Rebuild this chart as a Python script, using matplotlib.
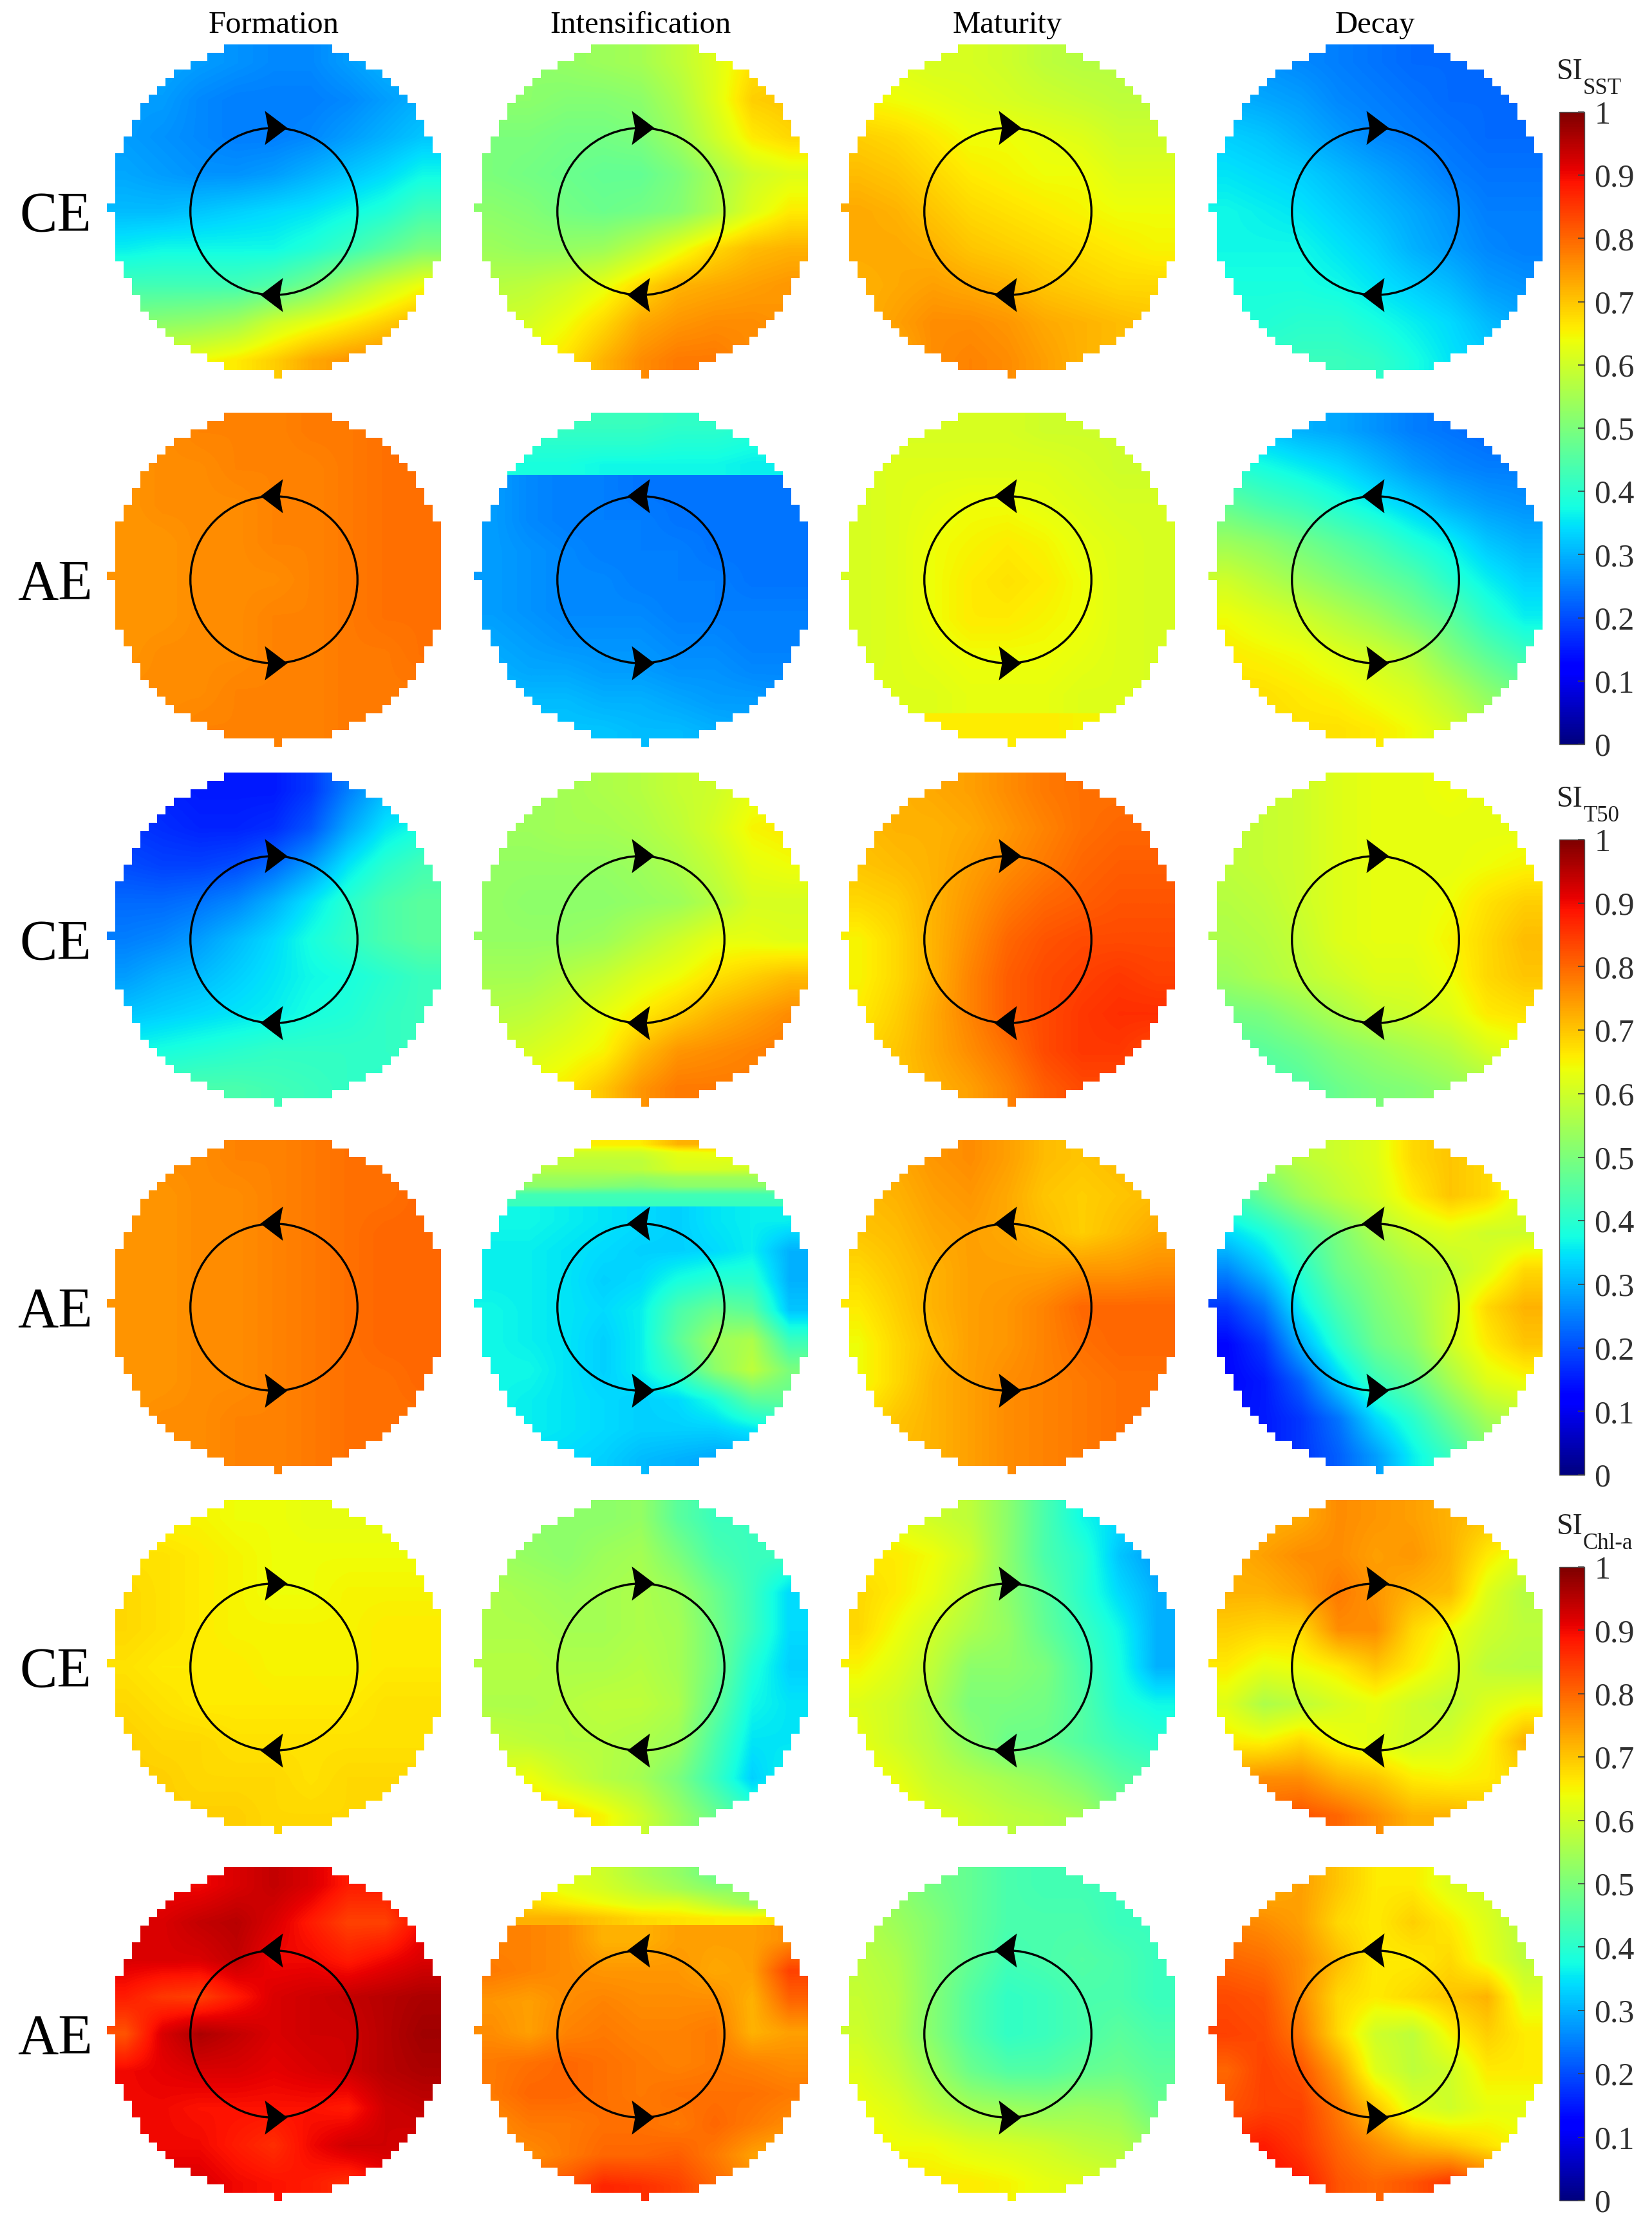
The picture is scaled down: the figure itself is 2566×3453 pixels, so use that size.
import numpy as np
import matplotlib
matplotlib.use('Agg')
import matplotlib.pyplot as plt
from matplotlib.path import Path
from matplotlib.patches import Circle, Polygon
from matplotlib.cm import ScalarMappable
from matplotlib.colors import Normalize

plt.rcParams['font.family'] = ['Liberation Serif', 'DejaVu Serif']

stages = ['Formation', 'Intensification', 'Maturity', 'Decay']
row_labels = ['CE', 'AE', 'CE', 'AE', 'CE', 'AE']
cbar_ticks = [0, .1, .2, .3, .4, .5, .6, .7, .8, .9, 1]
cbar_subs = ['SST', 'T50', 'Chl-a']

# ---------- SI_SST, cyclonic eddies
sst_ce_form = [[.29,.29,.28,.27,.26,.26,.28,.30,.30],[.28,.28,.26,.25,.25,.25,.26,.28,.30],[.28,.27,.26,.25,.25,.26,.28,.30,.32],
 [.29,.28,.27,.27,.28,.30,.32,.34,.37],[.31,.31,.32,.33,.34,.35,.37,.39,.43],[.36,.37,.37,.37,.37,.39,.42,.46,.50],
 [.43,.43,.43,.43,.45,.49,.55,.60,.64],[.51,.52,.53,.55,.60,.63,.66,.69,.72],[.60,.62,.64,.66,.69,.73,.75,.76,.76]]
sst_ce_int = [[.52,.52,.53,.54,.55,.58,.62,.67,.68],[.52,.52,.51,.51,.52,.56,.62,.69,.70],[.50,.50,.49,.49,.50,.54,.60,.66,.68],
 [.50,.49,.48,.47,.47,.50,.55,.60,.62],[.52,.51,.49,.48,.49,.51,.56,.62,.66],[.54,.53,.53,.54,.58,.63,.68,.71,.72],
 [.57,.58,.60,.63,.68,.72,.73,.74,.75],[.60,.61,.64,.68,.73,.75,.76,.76,.75],[.62,.64,.67,.72,.76,.78,.78,.76,.75]]
sst_ce_mat = [[.63,.62,.61,.61,.60,.58,.57,.57,.57],[.65,.64,.63,.62,.61,.60,.59,.58,.58],[.69,.68,.66,.64,.64,.63,.62,.60,.60],
 [.71,.70,.68,.66,.65,.64,.64,.62,.62],[.73,.72,.70,.68,.67,.66,.65,.64,.64],[.73,.73,.72,.70,.69,.68,.67,.66,.65],
 [.72,.73,.74,.73,.72,.70,.69,.68,.68],[.72,.74,.76,.76,.75,.73,.72,.71,.70],[.70,.72,.76,.77,.76,.74,.72,.71,.70]]
sst_ce_dec = [[.28,.27,.26,.25,.24,.23,.23,.23,.23],[.30,.29,.28,.26,.25,.24,.23,.23,.23],[.33,.32,.30,.28,.26,.25,.24,.23,.23],
 [.35,.34,.33,.31,.29,.27,.25,.24,.24],[.37,.36,.35,.33,.31,.29,.27,.25,.25],[.37,.37,.37,.35,.33,.30,.28,.26,.25],
 [.38,.38,.38,.37,.35,.33,.31,.28,.27],[.39,.39,.40,.40,.38,.36,.34,.31,.29],[.41,.41,.42,.42,.41,.38,.35,.33,.31]]
# ---------- SI_SST, anticyclonic eddies
sst_ae_form = [[.76,.76,.77,.77,.77,.78,.78,.79,.79],[.75,.76,.76,.77,.77,.77,.78,.79,.79],[.75,.76,.76,.76,.77,.77,.78,.79,.79],
 [.75,.75,.76,.76,.77,.77,.78,.79,.79],[.75,.75,.76,.76,.76,.77,.78,.79,.79],[.75,.75,.76,.76,.77,.77,.78,.79,.79],
 [.75,.76,.76,.76,.77,.77,.78,.78,.79],[.76,.76,.76,.77,.77,.77,.78,.78,.78],[.76,.76,.77,.77,.77,.77,.78,.78,.78]]
sst_ae_int_top = [[.42,.42,.42,.42,.42,.41,.41,.40,.40],[.40,.40,.40,.40,.40,.39,.39,.38,.38],[.38,.38,.38,.37,.37,.37,.37,.36,.36]]
sst_ae_int_body = [[.28,.26,.25,.25,.24,.24,.24,.24,.24],[.28,.26,.25,.25,.25,.24,.24,.24,.24],[.28,.27,.26,.25,.25,.25,.24,.24,.24],
 [.28,.27,.26,.26,.25,.25,.25,.24,.24],[.28,.27,.26,.26,.26,.25,.25,.25,.25],[.29,.28,.27,.27,.27,.26,.26,.25,.25],
 [.30,.29,.29,.28,.28,.27,.27,.26,.26],[.31,.31,.31,.30,.30,.29,.28,.28,.27],[.32,.32,.32,.32,.31,.31,.30,.29,.29]]
sst_ae_mat_body = [[.61,.61,.61,.61,.61,.60,.60,.60,.60],[.61,.62,.62,.62,.62,.62,.61,.60,.60],[.61,.62,.63,.64,.64,.63,.62,.61,.61],
 [.61,.62,.64,.65,.66,.65,.63,.62,.61],[.61,.62,.64,.66,.67,.66,.64,.62,.61],[.61,.62,.64,.66,.66,.65,.64,.62,.61],
 [.61,.62,.63,.64,.64,.64,.63,.62,.61],[.62,.62,.62,.63,.63,.63,.62,.62,.61]]
sst_ae_mat_bot = [[.66,.66,.66,.66,.66,.66,.65,.65,.65],[.66,.66,.66,.66,.66,.66,.65,.65,.65]]
sst_ae_dec = [[.33,.32,.30,.29,.27,.25,.24,.23,.23],[.40,.38,.36,.34,.31,.28,.26,.25,.25],[.47,.44,.42,.39,.36,.33,.30,.28,.27],
 [.54,.52,.49,.46,.43,.39,.36,.32,.30],[.60,.57,.54,.51,.48,.45,.40,.36,.33],[.64,.62,.60,.57,.54,.50,.46,.40,.36],
 [.66,.65,.64,.62,.60,.57,.51,.46,.42],[.67,.67,.66,.65,.63,.61,.57,.52,.48],[.68,.68,.67,.67,.66,.64,.61,.57,.52]]
# ---------- SI_T50, cyclonic eddies
t50_ce_form = [[.17,.16,.15,.15,.15,.18,.25,.31,.33],[.18,.17,.16,.16,.17,.21,.29,.35,.38],[.20,.19,.19,.20,.23,.28,.35,.40,.43],
 [.23,.23,.24,.26,.30,.35,.40,.44,.46],[.25,.26,.28,.31,.34,.38,.41,.44,.46],[.28,.30,.31,.33,.35,.37,.38,.40,.42],
 [.32,.33,.34,.35,.36,.38,.39,.41,.42],[.37,.38,.39,.40,.41,.41,.41,.41,.42],[.42,.43,.44,.44,.43,.42,.41,.40,.40]]
t50_ce_int = [[.54,.54,.55,.56,.57,.59,.60,.63,.63],[.54,.54,.55,.55,.56,.58,.61,.65,.66],[.53,.53,.53,.53,.54,.56,.59,.63,.64],
 [.53,.52,.52,.52,.53,.54,.57,.61,.61],[.53,.53,.53,.54,.57,.60,.63,.63,.62],[.55,.55,.57,.59,.62,.64,.67,.69,.71],
 [.57,.58,.60,.63,.66,.69,.72,.74,.76],[.60,.61,.63,.65,.71,.75,.76,.77,.78],[.62,.64,.66,.70,.75,.78,.78,.78,.76]]
t50_ce_mat = [[.70,.72,.73,.74,.76,.78,.79,.79,.79],[.71,.72,.72,.73,.75,.77,.79,.80,.80],[.70,.71,.72,.74,.76,.78,.80,.81,.81],
 [.68,.69,.72,.75,.78,.80,.81,.82,.82],[.65,.68,.72,.76,.80,.82,.83,.83,.83],[.65,.68,.72,.77,.81,.83,.84,.85,.84],
 [.66,.69,.73,.77,.81,.83,.85,.86,.86],[.68,.70,.73,.76,.79,.83,.85,.85,.83],[.69,.70,.72,.74,.77,.81,.83,.83,.81]]
t50_ce_dec = [[.58,.59,.60,.62,.63,.63,.64,.63,.61],[.58,.59,.60,.62,.63,.63,.63,.63,.63],[.58,.59,.60,.62,.63,.63,.63,.64,.65],
 [.57,.58,.60,.62,.63,.63,.64,.67,.69],[.56,.57,.59,.62,.63,.63,.65,.68,.71],[.54,.56,.58,.60,.62,.62,.64,.68,.70],
 [.49,.50,.53,.56,.59,.60,.62,.66,.67],[.45,.46,.48,.51,.53,.55,.57,.61,.63],[.42,.43,.45,.48,.50,.51,.53,.55,.57]]
# ---------- SI_T50, anticyclonic eddies
t50_ae_form = [[.75,.76,.76,.77,.77,.78,.79,.79,.79],[.75,.75,.76,.76,.77,.78,.79,.79,.80],[.75,.75,.76,.76,.77,.78,.79,.80,.80],
 [.75,.75,.76,.76,.77,.78,.79,.80,.80],[.75,.75,.76,.76,.77,.78,.79,.80,.80],[.75,.75,.76,.76,.77,.78,.79,.80,.80],
 [.75,.75,.76,.76,.77,.78,.79,.79,.80],[.75,.76,.76,.77,.77,.78,.79,.79,.79],[.76,.76,.76,.77,.77,.78,.79,.79,.79]]
t50_ae_int_top = [[.66,.66,.66,.66,.66,.72,.72,.72,.72],[.60,.60,.60,.60,.60,.63,.64,.64,.64],[.58,.58,.58,.58,.58,.62,.62,.62,.62],
 [.57,.57,.57,.57,.58,.61,.61,.60,.60],[.54,.54,.54,.54,.53,.54,.54,.54,.54],[.52,.52,.52,.51,.50,.52,.52,.52,.52],
 [.43,.43,.43,.43,.43,.43,.43,.43,.43],[.42,.42,.42,.42,.42,.42,.42,.42,.42]]
t50_ae_int_body = [[.37,.37,.36,.35,.34,.33,.35,.36,.36],[.36,.36,.35,.34,.33,.33,.34,.36,.30],[.36,.36,.35,.33,.34,.38,.40,.40,.30],
 [.37,.36,.35,.34,.36,.44,.48,.46,.32],[.37,.36,.35,.33,.36,.46,.54,.56,.42],[.37,.37,.35,.33,.36,.42,.52,.58,.50],
 [.37,.36,.35,.34,.33,.34,.38,.46,.47],[.36,.36,.35,.34,.33,.33,.33,.35,.38],[.34,.34,.34,.33,.31,.30,.29,.29,.30]]
t50_ae_mat = [[.72,.73,.75,.76,.74,.71,.70,.71,.71],[.71,.72,.74,.75,.73,.70,.69,.70,.71],[.70,.71,.73,.74,.73,.71,.69,.71,.73],
 [.68,.70,.72,.74,.74,.74,.75,.75,.76],[.66,.69,.72,.74,.75,.77,.80,.80,.80],[.64,.68,.71,.74,.75,.77,.79,.80,.80],
 [.64,.68,.72,.74,.76,.77,.78,.79,.79],[.67,.70,.72,.74,.76,.77,.78,.79,.79],[.69,.71,.72,.74,.76,.77,.78,.79,.79]]
t50_ae_dec = [[.50,.55,.58,.60,.62,.68,.70,.68,.62],[.42,.48,.54,.58,.61,.66,.70,.68,.62],[.34,.38,.44,.50,.56,.60,.62,.60,.60],
 [.26,.32,.40,.48,.52,.56,.58,.62,.68],[.18,.24,.36,.44,.50,.54,.60,.68,.72],[.13,.18,.30,.40,.48,.52,.60,.66,.70],
 [.13,.15,.22,.33,.42,.47,.55,.62,.64],[.14,.15,.18,.24,.34,.40,.48,.55,.58],[.15,.15,.18,.22,.28,.36,.42,.50,.52]]
# ---------- SI_Chl-a, cyclonic eddies
chl_ce_form = [[.65,.65,.65,.64,.64,.63,.63,.63,.63],[.67,.67,.66,.65,.64,.64,.64,.64,.64],[.68,.67,.66,.65,.64,.64,.65,.65,.65],
 [.68,.67,.66,.65,.65,.65,.65,.66,.66],[.67,.66,.66,.66,.65,.65,.65,.66,.66],[.68,.67,.66,.66,.66,.66,.66,.67,.67],
 [.69,.68,.68,.67,.67,.67,.67,.67,.67],[.69,.69,.68,.68,.68,.67,.68,.68,.68],[.70,.69,.69,.69,.68,.68,.68,.68,.68]]
chl_ce_int = [[.52,.52,.52,.52,.53,.46,.42,.42,.42],[.54,.53,.52,.54,.55,.50,.44,.42,.42],[.56,.55,.54,.55,.56,.54,.48,.42,.34],
 [.56,.56,.55,.55,.56,.55,.49,.42,.34],[.57,.57,.56,.56,.57,.55,.49,.39,.33],[.56,.56,.57,.58,.58,.56,.47,.37,.35],
 [.59,.58,.57,.57,.56,.54,.44,.35,.35],[.62,.64,.60,.57,.55,.50,.42,.33,.37],[.64,.68,.68,.65,.60,.54,.48,.42,.42]]
chl_ce_mat = [[.62,.62,.60,.58,.52,.44,.37,.34,.34],[.66,.66,.64,.60,.52,.44,.40,.32,.28],[.68,.66,.63,.58,.52,.46,.40,.34,.30],
 [.68,.64,.60,.56,.53,.47,.42,.37,.30],[.65,.62,.58,.52,.52,.50,.44,.38,.30],[.62,.60,.56,.50,.50,.49,.45,.39,.37],
 [.63,.60,.57,.52,.48,.48,.45,.42,.40],[.65,.63,.59,.57,.55,.53,.50,.46,.44],[.68,.66,.62,.60,.58,.57,.55,.50,.48]]
chl_ce_dec = [[.72,.72,.73,.76,.75,.74,.72,.70,.70],[.72,.74,.76,.76,.74,.75,.72,.66,.62],[.72,.72,.74,.78,.75,.72,.71,.62,.57],
 [.69,.68,.68,.76,.76,.68,.64,.60,.58],[.66,.63,.64,.66,.70,.66,.62,.58,.57],[.62,.56,.58,.61,.63,.60,.58,.62,.64],
 [.66,.65,.68,.64,.62,.60,.61,.65,.72],[.74,.76,.76,.72,.70,.66,.65,.66,.68],[.78,.80,.82,.80,.76,.72,.72,.70,.68]]
# ---------- SI_Chl-a, anticyclonic eddies
chl_ae_form = [[.90,.90,.90,.92,.94,.92,.88,.88,.90],[.92,.92,.94,.95,.92,.88,.84,.84,.90],[.92,.92,.92,.94,.90,.90,.88,.90,.92],
 [.88,.85,.84,.88,.92,.93,.94,.95,.96],[.82,.92,.96,.94,.92,.93,.93,.95,.97],[.90,.91,.92,.92,.91,.92,.93,.95,.96],
 [.90,.90,.89,.89,.89,.89,.88,.93,.94],[.90,.90,.90,.88,.86,.90,.93,.93,.92],[.92,.92,.92,.90,.89,.88,.86,.90,.92]]
chl_ae_int_top = [[.66,.66,.62,.60,.56,.53,.48,.48,.48],[.66,.66,.63,.61,.58,.55,.52,.52,.52],[.70,.68,.66,.64,.62,.62,.58,.54,.54],[.72,.72,.72,.70,.68,.67,.66,.66,.68]]
chl_ae_int_body = [[.77,.77,.76,.72,.72,.74,.74,.74,.76],[.78,.77,.76,.75,.75,.75,.73,.74,.84],[.75,.74,.76,.77,.76,.76,.76,.72,.80],
 [.76,.74,.77,.78,.77,.77,.78,.72,.74],[.78,.79,.80,.79,.78,.77,.78,.77,.76],[.78,.80,.80,.79,.78,.79,.79,.79,.78],
 [.76,.78,.78,.79,.79,.78,.80,.78,.76],[.76,.76,.78,.80,.80,.81,.78,.74,.72],[.76,.80,.82,.87,.86,.84,.80,.76,.74]]
chl_ae_mat = [[.54,.52,.49,.47,.44,.43,.43,.42,.42],[.57,.54,.51,.47,.44,.44,.44,.42,.42],[.58,.56,.51,.47,.43,.44,.45,.44,.42],
 [.59,.57,.51,.45,.41,.42,.44,.44,.42],[.60,.57,.51,.45,.41,.42,.44,.46,.44],[.62,.59,.54,.48,.45,.45,.47,.48,.46],
 [.64,.62,.58,.55,.54,.53,.54,.53,.48],[.66,.64,.64,.62,.61,.60,.58,.57,.53],[.67,.67,.66,.66,.65,.63,.62,.60,.56]]
chl_ae_dec = [[.72,.72,.74,.70,.66,.66,.62,.60,.58],[.77,.76,.74,.68,.66,.69,.66,.62,.57],[.80,.79,.76,.71,.66,.66,.68,.63,.58],
 [.83,.82,.76,.68,.66,.68,.70,.72,.62],[.84,.83,.78,.68,.60,.58,.65,.69,.66],[.80,.84,.82,.74,.62,.58,.60,.66,.66],
 [.82,.84,.84,.78,.70,.62,.60,.63,.63],[.87,.88,.85,.80,.76,.72,.70,.67,.64],[.88,.90,.88,.82,.80,.82,.85,.80,.72]]

# Each panel: pieces of the map, ordered from top to bottom.
panels = [
 [[sst_ce_form], [sst_ce_int], [sst_ce_mat], [sst_ce_dec]],
 [[sst_ae_form], [sst_ae_int_top, sst_ae_int_body], [sst_ae_mat_body, sst_ae_mat_bot], [sst_ae_dec]],
 [[t50_ce_form], [t50_ce_int], [t50_ce_mat], [t50_ce_dec]],
 [[t50_ae_form], [t50_ae_int_top, t50_ae_int_body], [t50_ae_mat], [t50_ae_dec]],
 [[chl_ce_form], [chl_ce_int], [chl_ce_mat], [chl_ce_dec]],
 [[chl_ae_form], [chl_ae_int_top, chl_ae_int_body], [chl_ae_mat], [chl_ae_dec]],
]
# grid line (in cells, 0-40 from the bottom) where a map has a sharp horizontal break
breaks = {(1, 1): 32.5, (1, 2): 4, (3, 1): 32, (5, 1): 33}

# ---------- layout, in reference pixels
W, H = 2566, 3453
fig = plt.figure(figsize=(W / 100, H / 100), dpi=100, facecolor='white')
col_x = [166, 736, 1306, 1877]
row_bottom = [588, 1160, 1719, 2290, 2849, 3419]
SIZE = 519
N = 40


def add_ax(x0, y_bottom, w, h):
    return fig.add_axes([x0 / W, 1 - y_bottom / H, w / W, h / H])


def text_px(x, y, s, **kw):
    fig.text(x / W, 1 - y / H, s, **kw)


# stepped outline of the disc: grid of 41 nodes, radius 20, last row/col dropped
rects = []
for j in range(N):
    w = int(np.floor(np.sqrt(max(0, 400 - (j - 20) ** 2))))
    a, b = 20 - w, min(20 + w + 1, N)
    rects.append(Path([(a, j), (b, j), (b, j + 1), (a, j + 1), (a, j)]))
disc = Path.make_compound_path(*rects)

cell = SIZE / N
tip, base, notch, half = 21 / cell, 14 / cell, 9 / cell, 26.5 / cell
LABEL = dict(color='black', ha='center', va='baseline')

for r, rb in enumerate(row_bottom):
    text_px(86, rb - 229, row_labels[r], fontsize=63, **LABEL)
    for c, x0 in enumerate(col_x):
        ax = add_ax(x0, rb, SIZE, SIZE)
        pieces = panels[r][c]
        edges = [N, breaks[(r, c)], 0] if len(pieces) == 2 else [N, 0]
        for k, piece in enumerate(pieces):
            im = ax.imshow(piece, cmap='jet', vmin=0, vmax=1, interpolation='bilinear',
                           aspect='auto', origin='upper',
                           extent=(0, N, edges[k + 1], edges[k]))
            im.set_clip_path(disc, ax.transData)
        ax.set_xlim(0, N)
        ax.set_ylim(0, N)
        ax.axis('off')
        ax.add_patch(Circle((20, 20), 10, fill=False, ec='black', lw=2.4, zorder=3))
        # rotation direction: CE clockwise, AE anticlockwise
        d = 1 if row_labels[r] == 'CE' else -1
        for yc, s in ((30, d), (10, -d)):
            ax.add_patch(Polygon([(20 + s * tip, yc), (20 - s * base, yc + half),
                                  (20 - s * notch, yc), (20 - s * base, yc - half)],
                                 closed=True, fc='black', ec='none', zorder=4))
    if r == 0:
        for c, x0 in enumerate(col_x):
            text_px(x0 + 259, 51, stages[c], fontsize=35, **LABEL)

# ---------- colour bars
bar_top = [174, 1304, 2434]
bar_bottom = [1156, 2291, 3418]
for t, b, sub in zip(bar_top, bar_bottom, cbar_subs):
    cax = add_ax(2422, b, 39, b - t)
    cb = fig.colorbar(ScalarMappable(Normalize(0, 1), 'jet'), cax=cax, ticks=cbar_ticks)
    cb.ax.set_yticklabels(['%g' % v for v in cbar_ticks])
    cb.ax.tick_params(direction='in', length=7, width=1.2, color='#404040', pad=11,
                      labelsize=36, labelcolor='#303030')
    cb.outline.set_edgecolor('#505050')
    cb.outline.set_linewidth(1.0)
    text_px(2418, t - 51, 'SI', fontsize=33, color='#202020', ha='left', va='baseline')
    text_px(2459, t - 28, sub, fontsize=25, color='#202020', ha='left', va='baseline')

fig.savefig('out.png', dpi=100, facecolor='white')
